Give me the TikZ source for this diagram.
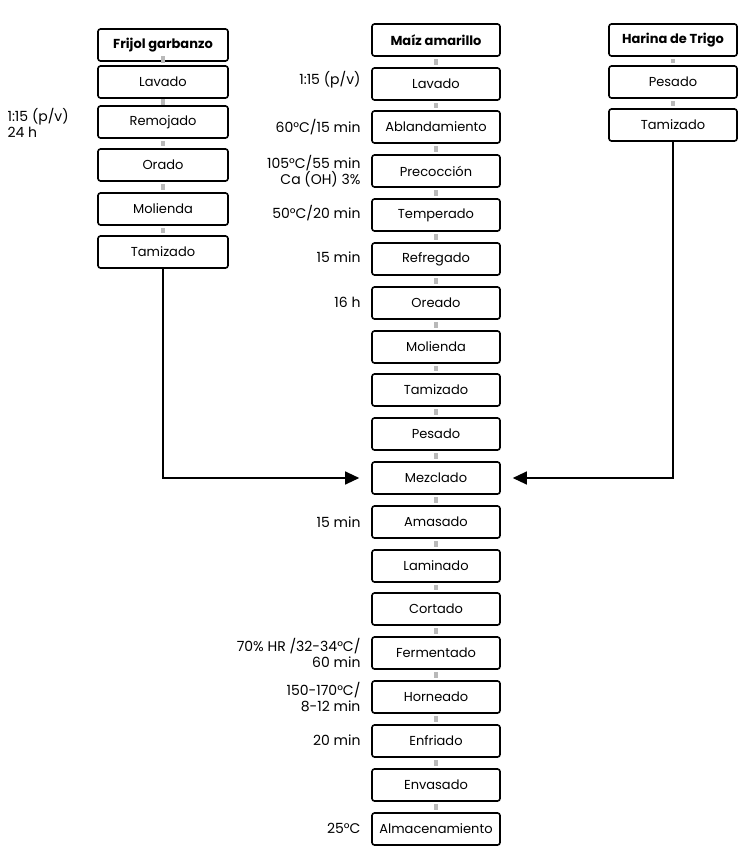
\documentclass[tikz,border=0pt]{standalone}
\usepackage{fontspec}
\setmainfont{Poppins}
\usetikzlibrary{arrows.meta}
\begin{document}
\begin{tikzpicture}[x=1pt,y=-1pt,
 box/.style={draw,line width=1.6pt,rounded corners=2.5pt,minimum height=32pt,inner sep=2pt,font=\fontsize{13}{15}\selectfont},
 bc/.style={box,minimum width=128pt},
 bl/.style={box,minimum width=130pt},
 lab/.style={anchor=east,align=right,font=\fontsize{14}{16}\selectfont},
 link/.style={draw=gray!55,line width=1.2pt,shorten <=2.5pt,shorten >=2.5pt,{Square[length=3.5pt,width=4pt]}-{Square[length=3.5pt,width=4pt]}},
 flow/.style={line width=1.2pt,-{Triangle[length=14pt,width=13pt]},shorten >=12pt}]
\useasboundingbox (0,0) rectangle (750,855);
\foreach \n/\t/\y [count=\i] in {
 c1/{\textbf{Maíz amarillo}}/40, c2/Lavado/84, c3/Ablandamiento/127, c4/Precocción/171,
 c5/Temperado/215, c6/Refregado/259, c7/Oreado/303, c8/Molienda/347, c9/Tamizado/390,
 c10/Pesado/434, c11/Mezclado/478, c12/Amasado/522, c13/Laminado/566, c14/Cortado/609,
 c15/Fermentado/653, c16/Horneado/697, c17/Enfriado/741, c18/Envasado/785, c19/Almacenamiento/829}
 \node[bc] (\n) at (436,\y) {\t};
\foreach \i in {1,...,18}{\pgfmathtruncatemacro\j{\i+1}\draw[link] (c\i.south) -- (c\j.north);}
\foreach \n/\t/\y in {l1/{\textbf{Frijol garbanzo}}/45, l2/Lavado/82, l3/Remojado/122, l4/Orado/165, l5/Molienda/209, l6/Tamizado/252}
 \node[bl] (\n) at (163,\y) {\t};
\foreach \i in {1,...,5}{\pgfmathtruncatemacro\j{\i+1}\draw[link] (l\i.south) -- (l\j.north);}
\foreach \n/\t/\y in {r1/{\textbf{Harina de Trigo}}/40, r2/Pesado/82, r3/Tamizado/125}
 \node[bc] (\n) at (673,\y) {\t};
\foreach \i in {1,2}{\pgfmathtruncatemacro\j{\i+1}\draw[link] (r\i.south) -- (r\j.north);}
\draw[flow] (l6.south) |- (c11.west);
\draw[flow] (r3.south) |- (c11.east);
\node[lab] (t1) at (364,80) {1:15 (p/v)};
\node[lab] (t2) at (364,127) {60°C/15 min};
\node[lab] (t3) at (364,171) {105°C/55 min\\Ca (OH) 3\%};
\node[lab] (t4) at (364,213) {50°C/20 min};
\node[lab] (t5) at (364,257) {15 min};
\node[lab] (t6) at (364,302) {16 h};
\node[lab] (t7) at (364,522) {15 min};
\node[lab] (t8) at (364,653) {70\% HR /32-34°C/\\60 min};
\node[lab] (t9) at (364,697) {150-170°C/\\8-12 min};
\node[lab] (t10) at (364,740) {20 min};
\node[lab] (t11) at (364,828) {25°C};
\node[anchor=west,align=left,font=\fontsize{14}{16}\selectfont] (t0) at (4,123) {1:15 (p/v)\\24 h};
\end{tikzpicture}
\end{document}
